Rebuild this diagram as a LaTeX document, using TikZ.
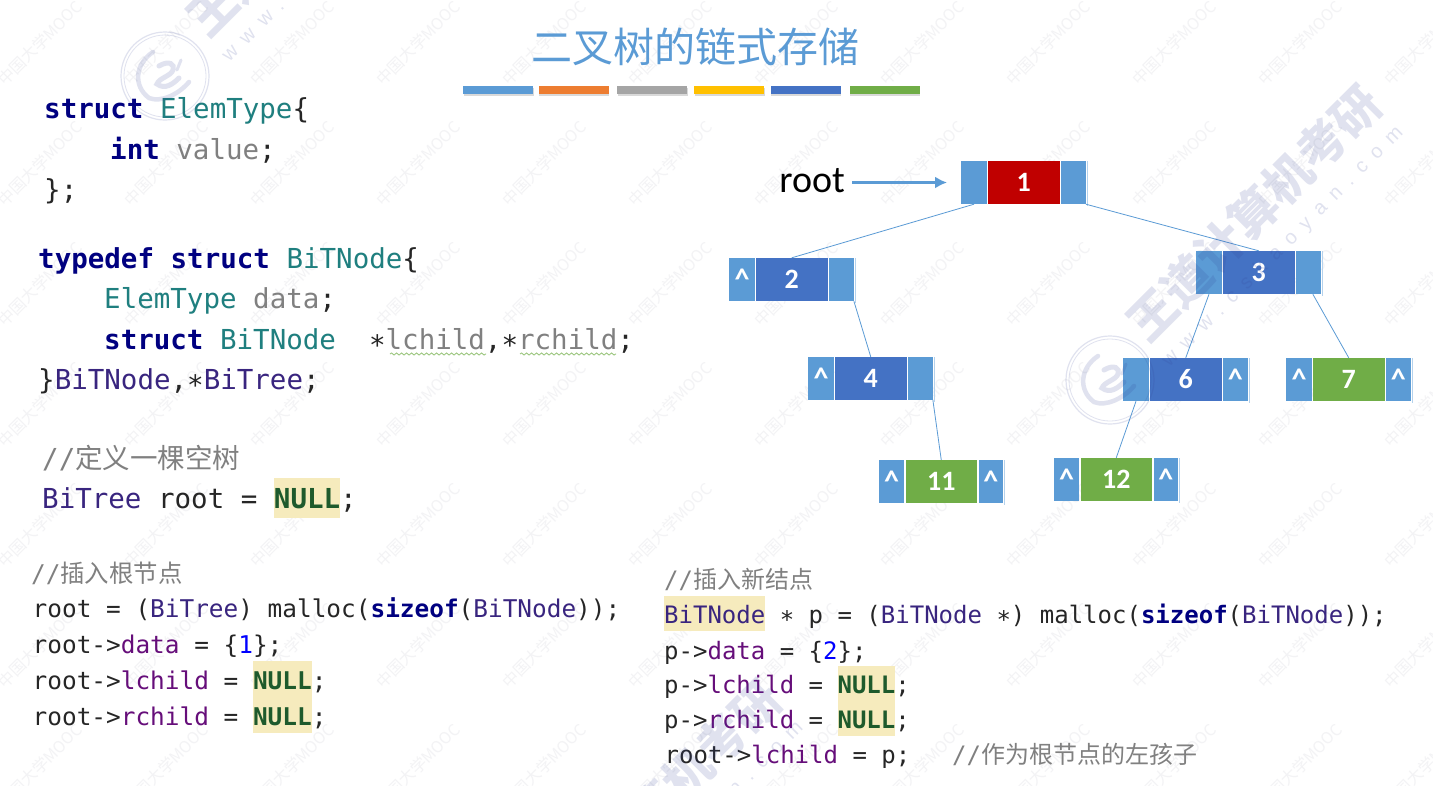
\documentclass[tikz,border=0pt]{standalone}
\usepackage{fontspec}
\usetikzlibrary{decorations.pathmorphing,arrows.meta}
\newfontfamily\cjk{Noto Sans CJK SC}
\newfontfamily\codef{DejaVu Sans Mono}
\newfontfamily\carl{Carlito}
\newfontfamily\wmlatin[LetterSpace=52]{Liberation Sans}
\definecolor{lb}{HTML}{5B9BD5}
\definecolor{db}{HTML}{4472C4}
\definecolor{rd}{HTML}{C00000}
\definecolor{gn}{HTML}{70AD47}
\definecolor{orangebar}{HTML}{ED7D31}
\definecolor{graybar}{HTML}{A5A5A5}
\definecolor{yellowbar}{HTML}{FFC000}
\definecolor{kw}{HTML}{000080}
\definecolor{ty}{HTML}{1F7F7F}
\definecolor{gv}{HTML}{808080}
\definecolor{cl}{HTML}{39257F}
\definecolor{fd}{HTML}{660E7A}
\definecolor{nm}{HTML}{0000FF}
\definecolor{nl}{HTML}{1E5A2C}
\definecolor{hl}{HTML}{F6EBBD}
\definecolor{cm}{HTML}{808080}
\definecolor{wmsmall}{HTML}{F3F3F5}
\definecolor{wmbig}{HTML}{303E94}
\newcommand{\Kw}[1]{\textcolor{kw}{\bfseries #1}}
\newcommand{\Ty}[1]{\textcolor{ty}{#1}}
\newcommand{\Gv}[1]{\textcolor{gv}{#1}}
\newcommand{\Cl}[1]{\textcolor{cl}{#1}}
\newcommand{\Fd}[1]{\textcolor{fd}{#1}}
\newcommand{\Nm}[1]{\textcolor{nm}{#1}}
\newcommand{\Nl}{\textcolor{nl}{\bfseries NULL}}
\newcommand{\Cm}[1]{\textcolor{cm}{//{\cjk #1}}}
\newcommand{\Car}{\char`\^}
\tikzset{
 x=1pt,y=-1pt,
 codeA/.style={anchor=base west,inner sep=0pt,text=black!85,font=\codef\fontsize{27.5}{30}\selectfont},
 codeB/.style={anchor=base west,inner sep=0pt,text=black!85,font=\codef\fontsize{24.4}{28}\selectfont},
 codeC/.style={anchor=base west,inner sep=0pt,text=black!85,font=\codef\fontsize{24}{28}\selectfont},
 cell/.style={inner sep=0pt,minimum height=43pt,text=white,font=\carl\bfseries\fontsize{28}{30}\selectfont},
 sidecell/.style={cell,fill=lb,font=\carl\bfseries\fontsize{30}{30}\selectfont},
 link/.style={draw=lb,line width=0.8pt},
 bar/.style={inner sep=0pt,minimum width=70pt,minimum height=8pt},
 highlight/.style={fill=hl,draw=none},
 overmark/.style={inner sep=0pt,text=wmbig,text opacity=0.15},
}
% name, left edge, top edge, colour, label, left text, right text
\newcommand{\treenode}[7]{%
 \begin{scope}[shift={(#2,#3)}]
  \node[sidecell,minimum width=25.5pt] (#1l) at (13,21.5) {\raisebox{-2pt}{#6}};
  \node[cell,fill=#4,minimum width=71.5pt] (#1c) at (62.75,21.5) {#5};
  \node[sidecell,minimum width=24.7pt] (#1r) at (112.35,21.5) {\raisebox{-2pt}{#7}};
  \draw[lb!45,line width=0.8pt] (126,0) -- (126,45);
 \end{scope}}
% big watermark group
\newcommand{\bigmark}[2]{%
 \begin{scope}[shift={(#1,#2)}]
  \node[overmark,rotate=45,font=\cjk\bfseries\fontsize{48}{48}\selectfont] (wmA#1) at (1254,213) {王道计算机考研};
  \node[overmark,rotate=45,font=\wmlatin\fontsize{20}{20}\selectfont] (wmB#1) at (1283,247) {www.cskaoyan.com};
 \end{scope}}
\newcommand{\logomark}[2]{%
 \begin{scope}[shift={(#1,#2)},draw=wmbig,draw opacity=0.15,line width=1.2pt,line cap=round]
  \draw (0,0) circle (44);
  \draw[line width=0.8pt] (0,0) circle (41);
  \draw[line width=4.5pt] (-12,-24) .. controls (-30,-12) and (-32,10) .. (-16,22) .. controls (-4,27) and (14,18) .. (24,6);
  \draw[line width=5pt] (-6,-10) .. controls (4,-16) and (10,-12) .. (8,-6) .. controls (6,0) and (-6,2) .. (-8,8) .. controls (0,14) and (8,8) .. (14,2);
  \draw[line width=3pt] (16,-16) -- (12,-6);
 \end{scope}}
\begin{document}
\begin{tikzpicture}
\useasboundingbox (0,0) rectangle (1433,785);
\clip (0,0) rectangle (1433,785);
\fill[white] (0,0) rectangle (1433,785);
% faint watermarks
\foreach \wy [count=\cj] in {43,163.5,284,404.5,525,645.5,766}
 \foreach \wx [count=\ci] in {40,166,292,418,544,670,796,922,1048,1174,1300,1426}
  \node[rotate=45,inner sep=0pt,text=wmsmall,font=\cjk\fontsize{16}{16}\selectfont] (wm-\ci-\cj) at (\wx,\wy) {中国大学MOOC};
% title
\node[inner sep=0pt,text=lb,font=\cjk\fontsize{41}{41}\selectfont] (title) at (695,47) {二叉树的链式存储};
\foreach \bx/\bc [count=\bi] in {498/lb,573.5/orangebar,652/graybar,729/yellowbar,805.5/db,884.5/gn}{
 \fill[black!15] (\bx-34.5,88) rectangle (\bx+35.5,96);
 \node[bar,fill=\bc] (bar\bi) at (\bx,90) {};
}
% highlights
\fill[highlight] (274,478) rectangle (340,518);
\fill[highlight] (253,661) rectangle (312,733);
\fill[highlight] (664,596) rectangle (765,631);
\fill[highlight] (837.5,666) rectangle (895,736);
% code block 1
\node[codeA] (a1) at (44,118) {\Kw{struct}~\Ty{ElemType}\{};
\node[codeA] (a2) at (110,159) {\Kw{int}~\Gv{value};};
\node[codeA] (a3) at (44,199) {\};};
\node[codeA] (a4) at (38,268) {\Kw{typedef}~\Kw{struct}~\Ty{BiTNode}\{};
\node[codeA] (a5) at (104,308) {\Ty{ElemType}~\Gv{data};};
\node[codeA] (a6) at (104,349) {\Kw{struct}~\Ty{BiTNode}~~∗\Gv{lchild},∗\Gv{rchild};};
\node[codeA] (a7) at (38,389) {\}\Cl{BiTNode},∗\Cl{BiTree};};
\draw[gn!70,line width=0.9pt,decorate,decoration={snake,amplitude=1pt,segment length=5pt}] (390,354) -- (486,354);
\draw[gn!70,line width=0.9pt,decorate,decoration={snake,amplitude=1pt,segment length=5pt}] (520,354) -- (616,354);
\node[codeA] (a8) at (42,468) {\Cm{定义一棵空树}};
\node[codeA] (a9) at (42,508) {\Cl{BiTree}~root~=~\Nl;};
% code block 2
\node[codeB] (b1) at (31,582) {\Cm{插入根节点}};
\node[codeB] (b2) at (32.5,617) {root~=~(\Cl{BiTree})~malloc(\Kw{sizeof}(\Cl{BiTNode}));};
\node[codeB] (b3) at (32.5,653) {root->\Fd{data}~=~\{\Nm{1}\};};
\node[codeB] (b4) at (32.5,689) {root->\Fd{lchild}~=~\Nl;};
\node[codeB] (b5) at (32.5,725) {root->\Fd{rchild}~=~\Nl;};
% code block 3
\node[codeC] (c1) at (664,588) {\Cm{插入新结点}};
\node[codeC] (c2) at (664,623) {\Cl{BiTNode}~∗~p~=~(\Cl{BiTNode}~∗)~malloc(\Kw{sizeof}(\Cl{BiTNode}));};
\node[codeC] (c3) at (664,659) {p->\Fd{data}~=~\{\Nm{2}\};};
\node[codeC] (c4) at (664,693) {p->\Fd{lchild}~=~\Nl;};
\node[codeC] (c5) at (664,728) {p->\Fd{rchild}~=~\Nl;};
\node[codeC] (c6) at (664.5,763) {root->\Fd{lchild}~=~p;};
\node[codeC] (c7) at (952,763) {\Cm{作为根节点的左孩子}};
% tree
\treenode{n1}{961}{161}{rd}{1}{}{}
\treenode{n2}{729}{258}{db}{2}{\Car}{}
\treenode{n3}{1196}{251}{db}{3}{}{}
\treenode{n4}{808}{357}{db}{4}{\Car}{}
\treenode{n6}{1123}{358}{db}{6}{}{\Car}
\treenode{n7}{1286}{358}{gn}{7}{\Car}{\Car}
\treenode{n11}{878.5}{460}{gn}{11}{\Car}{\Car}
\treenode{n12}{1053.5}{458}{gn}{12}{\Car}{\Car}
\draw[link] (n1l.south) -- (n2c.north);
\draw[link] (n1r.south east) -- (n3c.north);
\draw[link] (n2r.south east) -- (n4c.north);
\draw[link] (n4r.south east) -- (n11c.north);
\draw[link] (n3l.south) -- (n6c.north);
\draw[link] ([xshift=4.5pt]n3r.south) -- (n7c.north);
\draw[link] (n6l.south) -- (n12c.north);
% root pointer
\node[inner sep=0pt,anchor=base east,font=\carl\fontsize{38}{38}\selectfont] (rootlabel) at (845,192) {root};
\draw[draw=lb,line width=2.8pt,-{Latex[length=12pt,width=12pt]},shorten <=7pt,shorten >=14pt] (rootlabel.east |- n1l.west) -- (n1l.west);
% overlaid watermarks
\bigmark{0}{0}
\bigmark{-940}{-305}
\bigmark{-600}{595}
\logomark{165}{76}
\logomark{1110}{380}
\end{tikzpicture}
\end{document}
